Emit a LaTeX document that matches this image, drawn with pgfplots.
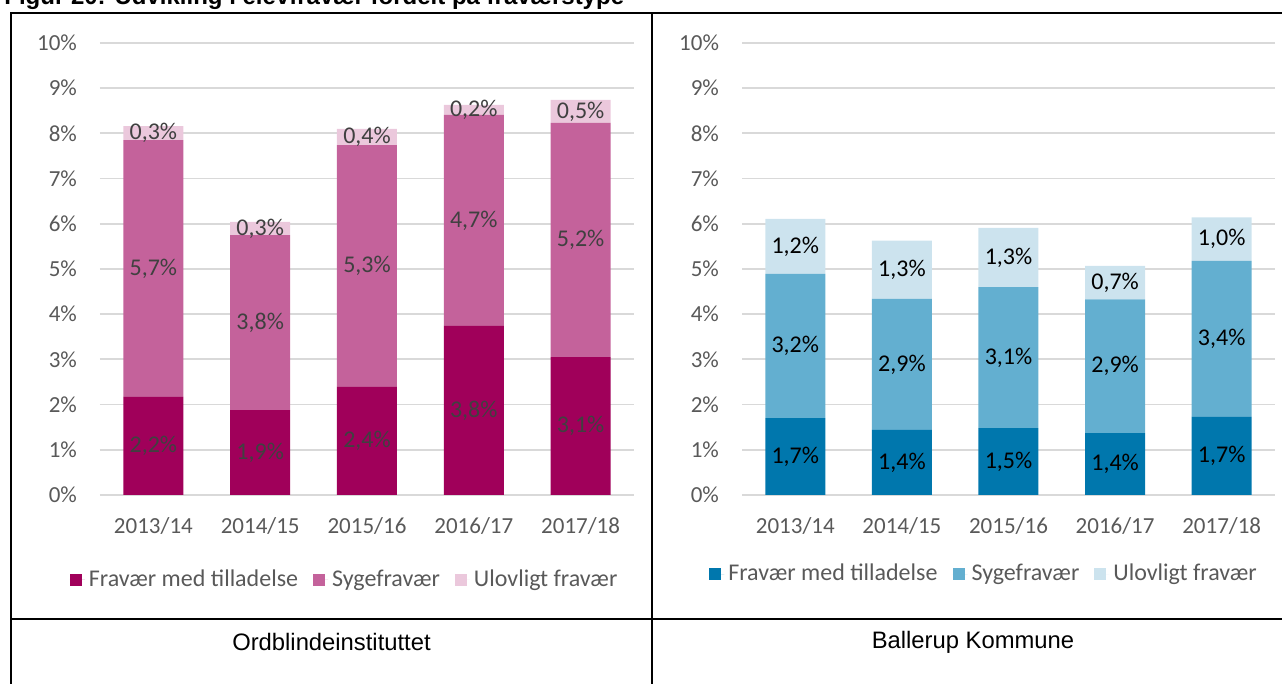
\documentclass[border=0pt]{standalone}
\usepackage{pgfplots}
\pgfplotsset{compat=1.18}
\usepackage{pgfplotstable}
\usepackage{fontspec}
\setmainfont{Carlito}
\newfontfamily\arialfont{Liberation Sans}
\definecolor{oA}{HTML}{A0005A}
\definecolor{oB}{HTML}{C4629B}
\definecolor{oC}{HTML}{EBC8DC}
\definecolor{bA}{HTML}{0077AD}
\definecolor{bB}{HTML}{63AFD0}
\definecolor{bC}{HTML}{CCE3EE}
\definecolor{tickgray}{HTML}{595959}
\definecolor{labgray}{HTML}{404040}
\definecolor{gridgray}{HTML}{D9D9D9}

\pgfplotstableread{
x a b c la lb lc
0 2.17 5.68 0.31 2,2 5,7 0,3
1 1.88 3.87 0.29 1,9 3,8 0,3
2 2.39 5.35 0.36 2,4 5,3 0,4
3 3.74 4.67 0.22 3,8 4,7 0,2
4 3.05 5.18 0.51 3,1 5,2 0,5
}\ordblinde
\pgfplotstableread{
x a b c la lb lc
0 1.70 3.19 1.22 1,7 3,2 1,2
1 1.44 2.90 1.29 1,4 2,9 1,3
2 1.48 3.12 1.31 1,5 3,1 1,3
3 1.37 2.96 0.74 1,4 2,9 0,7
4 1.73 3.45 0.96 1,7 3,4 1,0
}\ballerup

\pgfplotsset{
  fravaer/.style={
    scale only axis, height=226pt,
    ybar stacked, bar width=30pt,
    xmin=-0.5, xmax=4.5, ymin=0, ymax=10,
    enlargelimits=false, clip=false,
    axis line style={draw=none},
    major tick length=0pt,
    ytick={0,...,10},
    yticklabels={0\%,1\%,2\%,3\%,4\%,5\%,6\%,7\%,8\%,9\%,10\%},
    xtick={0,...,4},
    xticklabels={2013/14,2014/15,2015/16,2016/17,2017/18},
    ymajorgrids, major grid style={draw=gridgray, line width=0.9pt},
    tick label style={font=\fontsize{11.5}{13}\selectfont, text=tickgray},
    yticklabel style={xshift=-8pt},
    xticklabel style={yshift=-7.5pt},
    legend columns=3,
    legend style={draw=none, fill=none, font=\fontsize{12}{14}\selectfont, text=tickgray, anchor=center,
      /tikz/every even column/.append style={column sep=5.5pt}},
    legend image code/.code={\fill[##1] (0pt,-3pt) rectangle (6pt,3pt); \path (0pt,0pt) -- (7.5pt,0pt);},
    point meta=explicit symbolic,
    nodes near coords={\pgfplotspointmeta\%},
    every node near coord/.append style={anchor=center, font=\fontsize{12}{14}\selectfont},
  },
}

\begin{document}
\begin{tikzpicture}
\useasboundingbox (0,0) rectangle (641pt,342pt);
\clip (0,0) rectangle (641pt,342pt);
\node[anchor=base west, font=\arialfont\bfseries\fontsize{12}{14}\selectfont, inner sep=0pt] at (2pt,339.5pt) {Figur 20: Udvikling i elevfravær fordelt på fraværstype};
\draw[line width=1pt] (5.5pt,-5pt) -- (5.5pt,335.5pt) -- (660pt,335.5pt);
\draw[line width=1pt] (326pt,-5pt) -- (326pt,335.5pt);
\draw[line width=1pt] (5.5pt,32.5pt) -- (660pt,32.5pt);
\node[font=\arialfont\fontsize{11.9}{14}\selectfont] at (165.75pt,21pt) {Ordblindeinstituttet};
\node[font=\arialfont\fontsize{11.9}{14}\selectfont] at (486.5pt,21pt) {Ballerup Kommune};

\begin{axis}[fravaer, width=267pt, at={(50pt,94.5pt)}, anchor=south west,
  legend style={at={(0.46,-0.188)}},
  every node near coord/.append style={text=labgray}]
\addplot[fill=oA, draw=none] table[x=x, y=a, meta=la] {\ordblinde};
\addplot[fill=oB, draw=none] table[x=x, y=b, meta=lb] {\ordblinde};
\addplot[fill=oC, draw=none] table[x=x, y=c, meta=lc] {\ordblinde};
\legend{Fravær med tilladelse, Sygefravær, Ulovligt fravær}
\end{axis}

\begin{axis}[fravaer, width=266.5pt, at={(371pt,94.5pt)}, anchor=south west,
  legend style={at={(0.456,-0.175)}},
  every node near coord/.append style={text=black}]
\addplot[fill=bA, draw=none] table[x=x, y=a, meta=la] {\ballerup};
\addplot[fill=bB, draw=none] table[x=x, y=b, meta=lb] {\ballerup};
\addplot[fill=bC, draw=none] table[x=x, y=c, meta=lc] {\ballerup};
\legend{Fravær med tilladelse, Sygefravær, Ulovligt fravær}
\end{axis}
\end{tikzpicture}
\end{document}
